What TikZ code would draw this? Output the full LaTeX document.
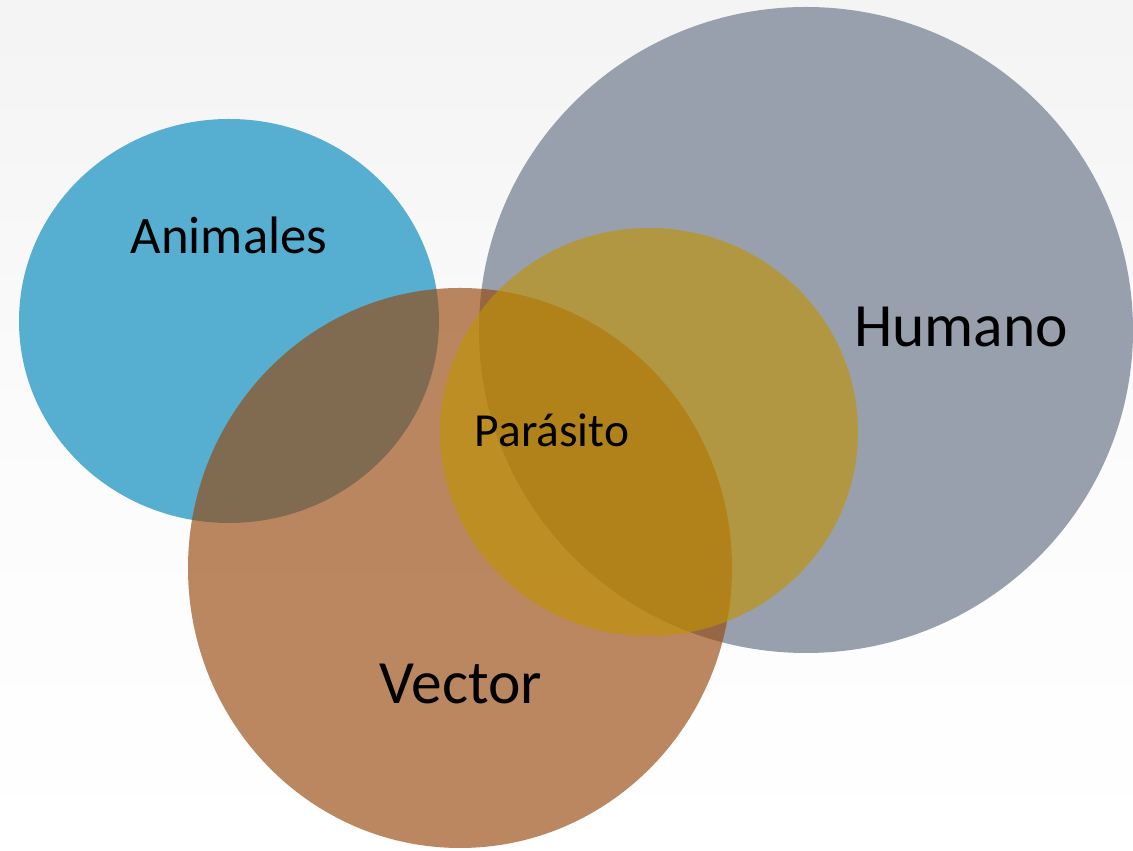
\documentclass[tikz,border=0pt]{standalone}
\usepackage{fontspec}
\setmainfont{Carlito}
\usetikzlibrary{positioning}
\definecolor{venblue}{RGB}{86,174,208}
\definecolor{vengray}{RGB}{151,160,172}
\definecolor{venbrown}{RGB}{151,73,15}
\definecolor{vengold}{RGB}{193,147,0}

\begin{document}
\begin{tikzpicture}[x=0.02cm, y=0.02cm,
  setanimal/.style={fill=venblue},
  sethuman/.style={fill=vengray},
  setvector/.style={fill=venbrown, fill opacity=0.655},
  setparasite/.style={fill=vengold, fill opacity=0.62},
  setlabel/.style={text=black, anchor=base, inner sep=0pt},
]
% canvas: 1133 x 851 px, origin bottom left
\clip (0,0) rectangle (1133,851);
\shade[top color=gray!9, bottom color=white, middle color=white!97!gray] (0,0) rectangle (1133,851);

% sets, bottom to top
\fill[sethuman] (806,521) ellipse [x radius=327, y radius=323];
\fill[setanimal] (229,530) ellipse [x radius=210, y radius=202];
\fill[setvector] (460,283) ellipse [x radius=272, y radius=280];
\fill[setparasite] (649,419) ellipse [x radius=209, y radius=204];

% labels
\node[setlabel, font=\fontsize{30}{36}\selectfont] (animales) at (229,597) {Animales};
\node[setlabel, font=\fontsize{35}{42}\selectfont] (humano) at (961,504) {Humano};
\node[setlabel, font=\fontsize{27}{32}\selectfont] (parasito) at (552,404) {Parásito};
\node[setlabel, font=\fontsize{35}{42}\selectfont] (vector) at (461,147) {Vector};
\end{tikzpicture}
\end{document}
